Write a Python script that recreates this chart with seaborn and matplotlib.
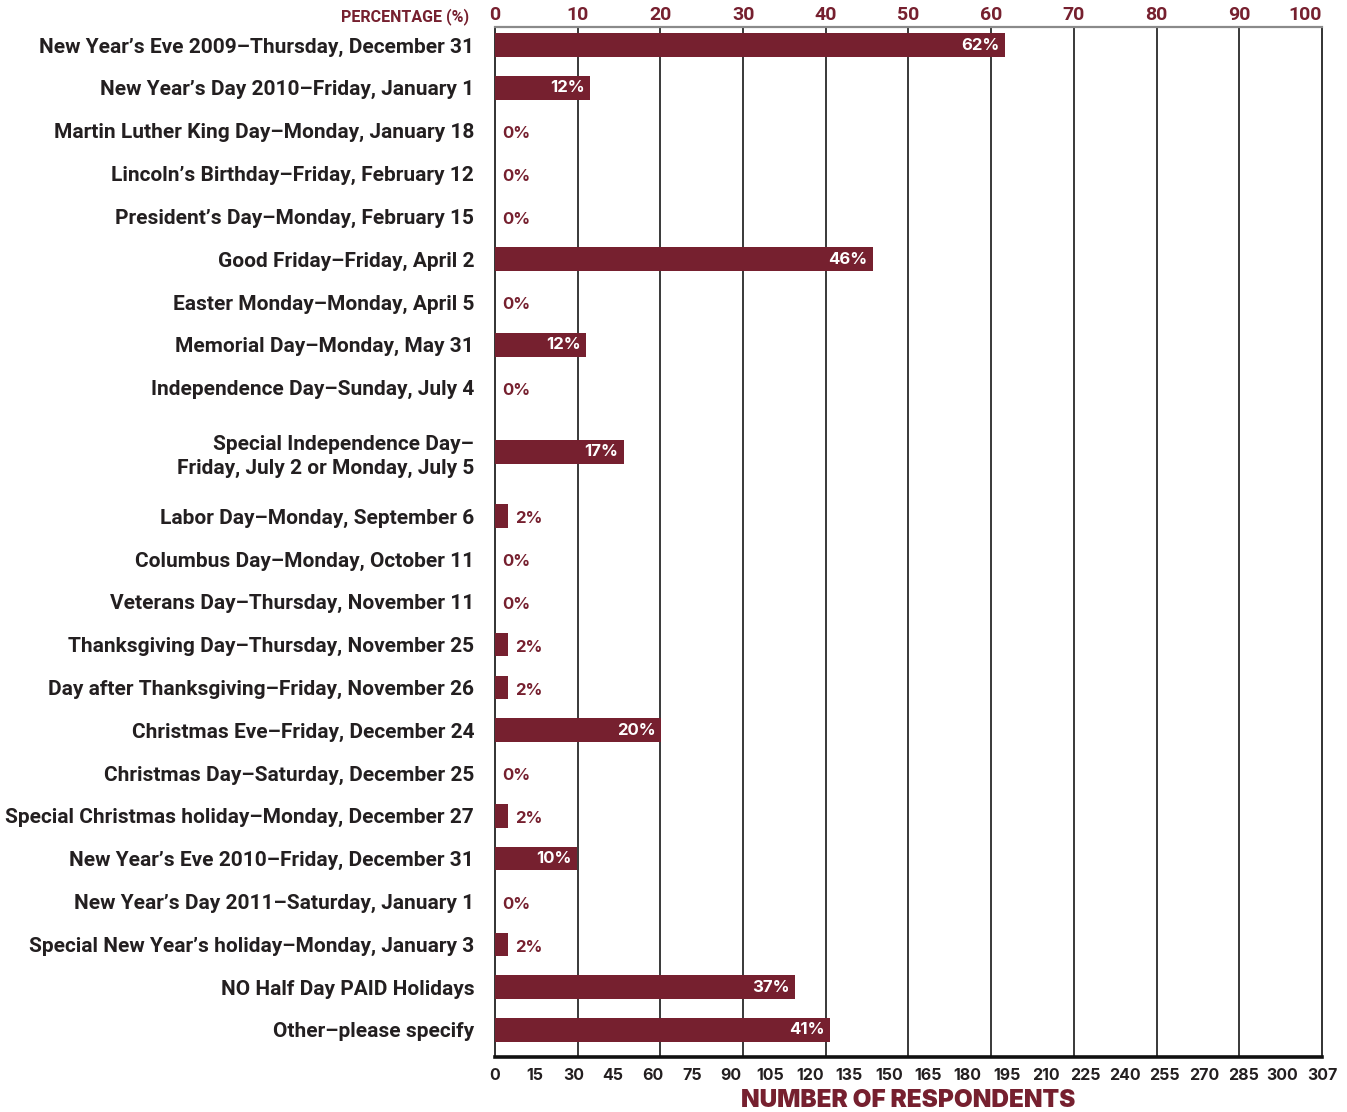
import numpy as np
import pandas as pd
import matplotlib
matplotlib.use("Agg")
import matplotlib.pyplot as plt
import seaborn as sns

# data
holidays = [
    "New Year\u2019s Eve 2009\u2013Thursday, December 31",
    "New Year\u2019s Day 2010\u2013Friday, January 1",
    "Martin Luther King Day\u2013Monday, January 18",
    "Lincoln\u2019s Birthday\u2013Friday, February 12",
    "President\u2019s Day\u2013Monday, February 15",
    "Good Friday\u2013Friday, April 2",
    "Easter Monday\u2013Monday, April 5",
    "Memorial Day\u2013Monday, May 31",
    "Independence Day\u2013Sunday, July 4",
    "Special Independence Day\u2013\nFriday, July 2 or Monday, July 5",
    "Labor Day\u2013Monday, September 6",
    "Columbus Day\u2013Monday, October 11",
    "Veterans Day\u2013Thursday, November 11",
    "Thanksgiving Day\u2013Thursday, November 25",
    "Day after Thanksgiving\u2013Friday, November 26",
    "Christmas Eve\u2013Friday, December 24",
    "Christmas Day\u2013Saturday, December 25",
    "Special Christmas holiday\u2013Monday, December 27",
    "New Year\u2019s Eve 2010\u2013Friday, December 31",
    "New Year\u2019s Day 2011\u2013Saturday, January 1",
    "Special New Year\u2019s holiday\u2013Monday, January 3",
    "NO Half Day PAID Holidays",
    "Other\u2013please specify",
]
pct_labels = [62, 12, 0, 0, 0, 46, 0, 12, 0, 17, 2, 0, 0, 2, 2, 20, 0, 2, 10, 0, 2, 37, 41]
bar_pct = [61.7, 11.5, 0, 0, 0, 45.7, 0, 11.0, 0, 15.6, 1.6, 0, 0, 1.6, 1.6,
           20.1, 0, 1.6, 9.9, 0, 1.6, 36.3, 40.5]
# the two-line row takes double height
row_pos = [0, 1, 2, 3, 4, 5, 6, 7, 8, 9.5, 11, 12, 13, 14, 15, 16, 17, 18, 19, 20, 21, 22, 23]
row_edges = [0.5, 1.5, 2.5, 3.5, 4.5, 5.5, 6.5, 7.5, 8.5, 10.5, 11.5, 12.5, 13.5, 14.5,
             15.5, 16.5, 17.5, 18.5, 19.5, 20.5, 21.5, 22.5]

pct_ticks = [0, 10, 20, 30, 40, 50, 60, 70, 80, 90, 100]
resp_labels = [str(v) for v in range(0, 301, 15)] + ["307"]

MAROON = "#76202f"
DARK = "#231f20"
NARROW = ["Roboto", "DejaVu Sans"]
WIDE = ["Inter", "DejaVu Sans"]

df = pd.DataFrame({"holiday": holidays, "pct": bar_pct, "pos": row_pos, "label": pct_labels})

sns.set_style("white")
plt.rcParams["font.family"] = WIDE

fig = plt.figure(figsize=(13.47, 11.12), dpi=100)
ax = fig.add_axes([0.3675, 0.0495, 0.6139, 0.9262])

sns.barplot(data=df, x="pct", y="pos", orient="h", native_scale=True,
            width=0.55, color=MAROON, saturation=1, linewidth=0, ax=ax, zorder=3)

ax.set_xlim(0, 100)
ax.set_ylim(23.63, -0.42)

# vertical grid at percent steps
for v in pct_ticks[1:-1]:
    ax.axvline(v, color="#2a2a2a", lw=1.3, zorder=1)

# row labels
ax.set_yticks(row_pos)
ax.set_yticklabels(holidays, fontsize=15, fontweight="bold", color=DARK,
                   family=NARROW, linespacing=1.35)
ax.tick_params(axis="y", which="major", length=0, pad=15)
ax.set_yticks(row_edges, minor=True)
ax.tick_params(axis="y", which="minor", length=6, width=2, color="#222222", direction="out")

# bottom respondent labels, typeset evenly across the axis
ax.set_xticks(np.linspace(0, 100, len(resp_labels)))
ax.set_xticklabels(resp_labels, fontsize=11.5, fontweight="bold", color=DARK, family=WIDE)
ax.tick_params(axis="x", length=0, pad=8)
ax.set_xlabel("NUMBER OF RESPONDENTS", fontsize=17.5, fontweight="black",
              color=MAROON, labelpad=4.5, family=WIDE)
ax.set_ylabel("")

# top percentage axis
top = ax.secondary_xaxis("top")
top.set_xticks(pct_ticks)
top.set_xticklabels([str(v) for v in pct_ticks], fontsize=14, fontweight="bold",
                    color=MAROON, family=NARROW)
top.tick_params(length=0, pad=2)
top.get_xticklabels()[-1].set_ha("right")
top.spines["top"].set_visible(False)
ax.text(-0.031, 1.002, "PERCENTAGE (%)", transform=ax.transAxes, ha="right", va="bottom",
        fontsize=11.5, fontweight="bold", color=MAROON, family=NARROW)

for side in ["left", "right"]:
    ax.spines[side].set_visible(True)
    ax.spines[side].set_color("#222222")
    ax.spines[side].set_linewidth(1.3)
ax.spines["top"].set_color("#8a8a8a")
ax.spines["top"].set_linewidth(1.6)
ax.spines["bottom"].set_color("#111111")
ax.spines["bottom"].set_linewidth(2.6)

# value labels
for _, r in df.iterrows():
    txt = f"{r['label']}%"
    if r["label"] >= 10:
        ax.annotate(txt, (r["pct"], r["pos"]), xytext=(-4, 0), textcoords="offset points",
                    ha="right", va="center", fontsize=12, fontweight="bold",
                    color="white", zorder=4, family=WIDE)
    else:
        ax.annotate(txt, (r["pct"], r["pos"]), xytext=(5, -2), textcoords="offset points",
                    ha="left", va="center", fontsize=12, fontweight="bold",
                    color=MAROON, zorder=4, family=WIDE)

fig.savefig("out.png", dpi=100)
